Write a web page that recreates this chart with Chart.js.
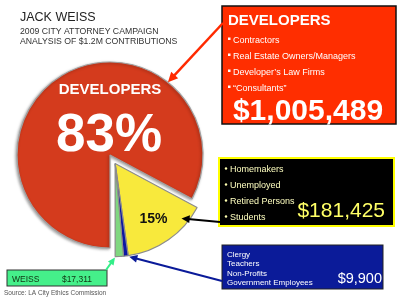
<!DOCTYPE html>
<html>
<head>
<meta charset="utf-8">
<script src="https://cdn.jsdelivr.net/npm/chart.js@4.4.0/dist/chart.umd.min.js"></script>
<style>
  html, body { margin: 0; padding: 0; background: #fff; }
  #wrap { width: 400px; height: 300px; }
</style>
</head>
<body>
<div id="wrap"><canvas id="chart" width="400" height="300"></canvas></div>
<script>
// contributions, clockwise from the bottom of the pie
const categories = ['Developers', 'Homemakers / Unemployed / Retired / Students', 'Clergy / Teachers / Non-Profits / Gov. Employees', 'Weiss'];
const amounts = [1005489, 181425, 9900, 17311];
const amountLabels = ['$1,005,489', '$181,425', '$9,900', '$17,311'];
const pctLabels = ['83%', '15%'];

const titleLines = ['JACK WEISS', '2009 CITY ATTORNEY CAMPAIGN', 'ANALYSIS OF $1.2M CONTRIBUTIONS'];
const developerItems = ['Contractors', 'Real Estate Owners/Managers', 'Developer\u2019s Law Firms', '\u201cConsultants\u201d'];
const individualItems = ['Homemakers', 'Unemployed', 'Retired Persons', 'Students'];
const publicItems = ['Clergy', 'Teachers', 'Non-Profits', 'Government Employees'];
const weissLabel = 'WEISS';
const sourceText = 'Source: LA City Ethics Commission';

const sliceColors = ['#D43B1D', '#F8E93C', '#0C17A2', '#7FD77F'];
const FONT = 'Arial, "Liberation Sans", sans-serif';
const EXPLODE = 10;

// move the three small slices out from the center as one group
function groupShift(arcs) {
  const mid = (arcs[1].startAngle + arcs[3].endAngle) / 2;
  return { dx: Math.cos(mid) * EXPLODE, dy: Math.sin(mid) * EXPLODE };
}

// point on slice i, frac along its angle, rFrac of its radius
function arcPoint(arcs, i, frac, rFrac) {
  const a = arcs[i];
  const s = i > 0 ? groupShift(arcs) : { dx: 0, dy: 0 };
  const ang = a.startAngle + (a.endAngle - a.startAngle) * frac;
  return {
    x: a.x + s.dx + Math.cos(ang) * a.outerRadius * rFrac,
    y: a.y + s.dy + Math.sin(ang) * a.outerRadius * rFrac
  };
}

function arrow(ctx, x1, y1, x2, y2, color, width, head) {
  const ang = Math.atan2(y2 - y1, x2 - x1);
  ctx.save();
  ctx.strokeStyle = color;
  ctx.fillStyle = color;
  ctx.lineWidth = width;
  ctx.beginPath();
  ctx.moveTo(x1, y1);
  ctx.lineTo(x2 - Math.cos(ang) * head * 0.7, y2 - Math.sin(ang) * head * 0.7);
  ctx.stroke();
  ctx.beginPath();
  ctx.moveTo(x2, y2);
  ctx.lineTo(x2 - Math.cos(ang - 0.45) * head, y2 - Math.sin(ang - 0.45) * head);
  ctx.lineTo(x2 - Math.cos(ang + 0.45) * head, y2 - Math.sin(ang + 0.45) * head);
  ctx.closePath();
  ctx.fill();
  ctx.restore();
}

function box(ctx, x, y, w, h, fill, stroke, lw) {
  ctx.fillStyle = fill;
  ctx.fillRect(x, y, w, h);
  ctx.strokeStyle = stroke;
  ctx.lineWidth = lw;
  ctx.strokeRect(x, y, w, h);
}

function text(ctx, str, x, y, font, color, align) {
  ctx.font = font;
  ctx.fillStyle = color;
  ctx.textAlign = align || 'left';
  ctx.textBaseline = 'alphabetic';
  ctx.fillText(str, x, y);
}

const explodedPie = {
  id: 'explodedPie',
  beforeDatasetsDraw(chart) {
    const ctx = chart.ctx;
    const arcs = chart.getDatasetMeta(0).data;
    const s = groupShift(arcs);
    arcs.forEach((arc, i) => {
      ctx.save();
      if (i > 0) ctx.translate(s.dx, s.dy);
      else {
        ctx.shadowColor = 'rgba(0,0,0,0.35)';
        ctx.shadowBlur = 3;
        ctx.shadowOffsetX = -1;
        ctx.shadowOffsetY = 1;
      }
      arc.draw(ctx, chart.chartArea);
      ctx.restore();
    });
    return false;
  },
  afterDraw(chart) {
    const ctx = chart.ctx;
    const arcs = chart.getDatasetMeta(0).data;
    const cx = arcs[0].x, cy = arcs[0].y;

    // title
    text(ctx, titleLines[0], 20, 21, '12.5px ' + FONT, '#222');
    text(ctx, titleLines[1], 20, 34, '8.7px ' + FONT, '#333');
    text(ctx, titleLines[2], 20, 44, '8.7px ' + FONT, '#333');

    // labels inside the pie
    text(ctx, 'DEVELOPERS', cx, cy - 61, 'bold 15px ' + FONT, '#fff', 'center');
    text(ctx, pctLabels[0], cx - 1, cy - 4, 'bold 53px ' + FONT, '#fff', 'center');
    const p15 = arcPoint(arcs, 1, 0.5, 0.72);
    text(ctx, pctLabels[1], p15.x, p15.y + 5, 'bold 14px ' + FONT, '#111', 'center');

    // developers box
    box(ctx, 222, 6, 174, 118, '#FF2E00', '#111', 1.5);
    text(ctx, 'DEVELOPERS', 228, 25, 'bold 15px ' + FONT, '#fff');
    developerItems.forEach((t, k) => {
      const y = 42.5 + k * 16;
      ctx.fillStyle = '#fff';
      ctx.fillRect(228, y - 5, 2.5, 2.5);
      text(ctx, t, 233, y, '9px ' + FONT, '#fff');
    });
    text(ctx, amountLabels[0], 308, 120, 'bold 30px ' + FONT, '#fff', 'center');

    // individuals box
    box(ctx, 219, 158, 175, 68, '#000', '#FFFF00', 2);
    individualItems.forEach((t, k) => {
      const y = 171.5 + k * 16;
      ctx.fillStyle = '#FFFFB0';
      ctx.beginPath();
      ctx.arc(226, y - 3, 1.2, 0, Math.PI * 2);
      ctx.fill();
      text(ctx, t, 230, y, '9px ' + FONT, '#FFFFC0');
    });
    text(ctx, amountLabels[1], 385, 217, '21px ' + FONT, '#FFFF66', 'right');

    // public sector box
    box(ctx, 222, 245, 161, 44, '#0B1B99', '#222', 1);
    publicItems.forEach((t, k) => {
      text(ctx, t, 227, 257 + k * 9.3, '8px ' + FONT, '#fff');
    });
    text(ctx, amountLabels[2], 382, 283, '14.5px ' + FONT, '#fff', 'right');

    // weiss box
    box(ctx, 7, 270, 100, 16, '#45F08A', '#333', 1);
    text(ctx, weissLabel, 12, 281.5, '8.5px ' + FONT, '#113311');
    text(ctx, amountLabels[3], 92, 281.5, '8.5px ' + FONT, '#113311', 'right');

    text(ctx, sourceText, 4, 294.5, '6.5px ' + FONT, '#555');

    // arrows
    const tRed = arcPoint(arcs, 0, 0.733, 1.0);
    arrow(ctx, 223, 23, tRed.x, tRed.y, '#FF2A00', 2.5, 11);
    arrow(ctx, 220, 222, p15.x + 28, p15.y, '#000', 2, 9);
    const tBlue = arcPoint(arcs, 2, 0, 1.0);
    arrow(ctx, 222, 281, tBlue.x + 1, tBlue.y + 1, '#0A1A99', 2, 9);
    const tGreen = arcPoint(arcs, 3, 0.9, 1.0);
    arrow(ctx, 106, 270, tGreen.x - 1, tGreen.y + 1, '#33EE88', 2, 8);
  }
};

new Chart(document.getElementById('chart'), {
  type: 'pie',
  data: {
    labels: categories,
    datasets: [{
      data: amounts,
      backgroundColor: sliceColors,
      borderColor: ['#a0a0a0', '#8c8c8c', '#8c8c8c', '#8c8c8c'],
      borderWidth: 1.2
    }]
  },
  options: {
    responsive: false,
    animation: false,
    events: [],
    rotation: 180,
    radius: 93,
    layout: { padding: { left: 10, right: 190, top: 60, bottom: 50 } },
    plugins: {
      legend: { display: false },
      tooltip: { enabled: false }
    }
  },
  plugins: [explodedPie]
});
</script>
</body>
</html>
